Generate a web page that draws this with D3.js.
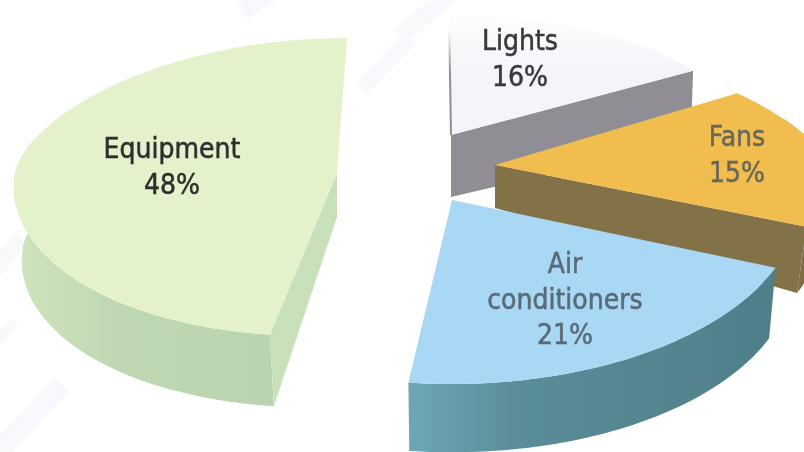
<!DOCTYPE html>
<html><head><meta charset="utf-8">
<script src="https://cdnjs.cloudflare.com/ajax/libs/d3/7.8.5/d3.min.js"></script>
<style>html,body{margin:0;padding:0;background:#fff;overflow:hidden}svg{display:block}</style>
</head><body><svg id="c" width="804" height="452"></svg>
<script>
const categories = ["Lights", "Fans", "Air conditioners", "Equipment"];
const percentValues = [16, 15, 21, 48];
const topColors = ["#f6f4f9", "#f2bd50", "#a9d8f4", "#e4f2cc"];
const sideColorsFrom = ["#8d8b91", "#8a7848", "#6fa6b6", "#cfe4bf"];
const sideColorsTo = ["#8d8b91", "#7d6c45", "#4f7f88", "#b6d2ad"];
const faceColors = ["#908e94", "#837146", "#5f8f9b", "#c9e1ba"];
const labelColors = ["#38383e", "#68685a", "#5a6a78", "#2c302e"];

// Exploded perspective placement of each slice
const placement = [
  {cx:451,cy:135,rx:288,ryB:120,ryF:120,leanB:-2, leanF:0, pow:1,  d:70,apexD:62,bs:.99,dx:0, face:"end",   lx:520,ly:50},
  {cx:495,cy:165,rx:335,ryB:134,ryF:168,leanB:-76,leanF:0, pow:1,  d:68,apexD:43,bs:.97,dx:0, face:"end",   lx:737,ly:146},
  {cx:452,cy:200,rx:348,ryB:134,ryF:184,leanB:0,  leanF:0, pow:1,  d:72,apexD:60,bs:.98,dx:0, face:null,    lx:565,ly:273},
  {cx:337,cy:173,rx:322,ryB:135,ryF:163,leanB:10, leanF:27,pow:1.2,d:74,apexD:44,bs:.985,dx:3,face:"start", lx:172,ly:158}
];

const svg = d3.select("#c");
const defs = svg.append("defs");
defs.append("filter").attr("id","soft").append("feGaussianBlur").attr("stdDeviation",0.45);
const root = svg.append("g").attr("filter","url(#soft)");

// faint watermark stripes
const stripes = [[-10,460,62,385,20],[-6,272,20,238,16],[242,12,272,-8,18],[362,88,410,38,16],[400,36,448,-4,18],[-10,350,14,322,10]];
root.append("g").selectAll("line").data(stripes).join("line")
  .attr("x1",d=>d[0]).attr("y1",d=>d[1]).attr("x2",d=>d[2]).attr("y2",d=>d[3])
  .attr("stroke","#f9f8fc").attr("stroke-width",d=>d[4]);

const arcs = d3.pie().sort(null)(percentValues);
const line = d3.line();

function project(g,a){
  const s=Math.sin(a), c=Math.cos(a);
  const yBack = c>0 ? g.ryB*Math.pow(c,g.pow) : g.ryF*c;
  return [g.cx+g.rx*s+(c>0?g.leanB:g.leanF)*c, g.cy-yBack];
}
function lower(g,p){
  return [g.cx+(p[0]-g.cx)*g.bs+g.dx, g.cy+(p[1]-g.cy)*g.bs+g.d];
}
function rim(g,a0,a1){
  return d3.range(0,61).map(i=>project(g,a0+(a1-a0)*i/60));
}

arcs.forEach((arc,i)=>{
  const g=placement[i];
  const gr=root.append("g");
  const pts=rim(g,arc.startAngle,arc.endAngle);
  const apex=[g.cx,g.cy], apexB=[g.cx,g.cy+g.apexD];
  const xs=pts.map(p=>p[0]);
  const grad=defs.append("linearGradient").attr("id","side"+i).attr("gradientUnits","userSpaceOnUse")
    .attr("x1",d3.min(xs)).attr("x2",d3.max(xs)).attr("y1",0).attr("y2",0);
  grad.append("stop").attr("offset",0).attr("stop-color",sideColorsFrom[i]);
  grad.append("stop").attr("offset",.3).attr("stop-color",d3.interpolateRgb(sideColorsFrom[i],sideColorsTo[i])(.65));
  grad.append("stop").attr("offset",1).attr("stop-color",sideColorsTo[i]);

  // outer wall: only the part of the rim that faces the viewer
  const front=pts.filter((p,k)=>{
    const a=arc.startAngle+(arc.endAngle-arc.startAngle)*k/60;
    return Math.cos(a)<0.35;
  });
  if(front.length>1){
    const wall=front.concat(front.map(p=>lower(g,p)).reverse());
    gr.append("path").attr("d",line(wall)+"Z").attr("fill","url(#side"+i+")");
  }
  // cut face
  if(g.face){
    const e=g.face==="end"?pts[pts.length-1]:pts[0];
    gr.append("path").attr("d",line([apex,e,lower(g,e),apexB])+"Z").attr("fill",faceColors[i]);
  }
  // top
  if(i===0){
    const lg=defs.append("linearGradient").attr("id","fade").attr("x1",0).attr("x2",0).attr("y1",0).attr("y2",1);
    lg.append("stop").attr("offset",0).attr("stop-color","#fdfdfe");
    lg.append("stop").attr("offset",.45).attr("stop-color",topColors[0]);
    const eg=defs.append("linearGradient").attr("id","edge").attr("gradientUnits","userSpaceOnUse")
      .attr("x1",0).attr("x2",0).attr("y1",pts[0][1]+15).attr("y2",g.cy);
    eg.append("stop").attr("offset",0).attr("stop-color",faceColors[0]).attr("stop-opacity",0);
    eg.append("stop").attr("offset",.4).attr("stop-color",faceColors[0]);
    gr.append("path").attr("d",line([apex].concat(pts))+"Z").attr("fill","url(#fade)");
    gr.append("path").attr("d",line([apex,pts[0]])).attr("fill","none").attr("stroke","url(#edge)").attr("stroke-width",2);
  } else {
    gr.append("path").attr("d",line([apex].concat(pts))+"Z").attr("fill",topColors[i]);
  }
});

// labels on top of all slices
categories.forEach((name,i)=>{
  const g=placement[i];
  const lines=(name==="Air conditioners"?name.split(" "):[name]).concat(percentValues[i]+"%");
  root.append("text").attr("text-anchor","middle")
    .attr("font-family","'DejaVu Sans Condensed','DejaVu Sans',sans-serif").attr("font-stretch","condensed").attr("font-size",28)
    .attr("fill",labelColors[i]).attr("stroke",labelColors[i]).attr("stroke-width",0.5)
    .selectAll("tspan").data(lines).join("tspan")
    .attr("x",g.lx).attr("y",(d,k)=>g.ly+k*35.5).text(d=>d);
});
</script></body></html>
